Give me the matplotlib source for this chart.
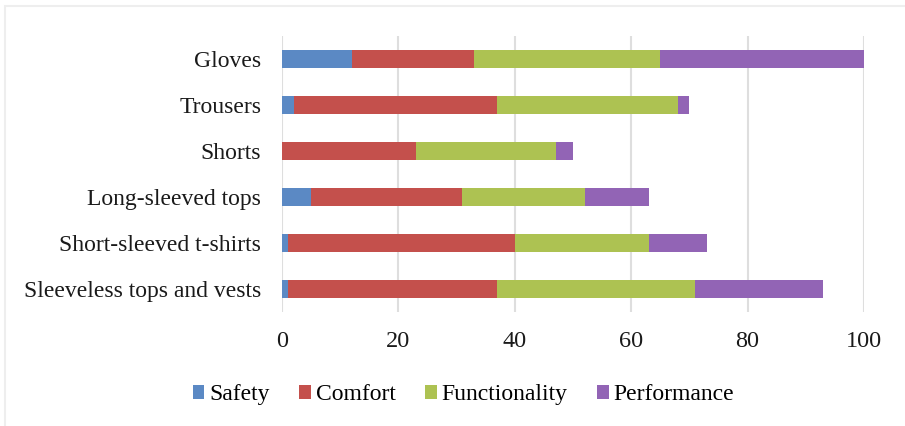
import numpy as np
import matplotlib
matplotlib.use("Agg")
import matplotlib.pyplot as plt
from matplotlib.patches import Rectangle

# dane (od dołu do góry)
categories = ['Sleeveless tops and vests', 'Short-sleeved t-shirts', 'Long-sleeved tops',
              'Shorts', 'Trousers', 'Gloves']
safety = [1, 1, 5, 0, 2, 12]
comfort = [36, 39, 26, 23, 35, 21]
functionality = [34, 23, 21, 24, 31, 32]
performance = [22, 10, 11, 3, 2, 35]

series = [safety, comfort, functionality, performance]
labels = ['Safety', 'Comfort', 'Functionality', 'Performance']
colors = ['#5b89c4', '#c4504c', '#adc252', '#9264b5']

plt.rcParams['font.family'] = ['Liberation Serif', 'DejaVu Serif']

fig = plt.figure(figsize=(9.05, 4.26), dpi=100)
ax = fig.add_axes([0.3116, 0.2676, 0.6431, 0.6479])

y = np.arange(len(categories))
left = np.zeros(len(categories))
for vals, lab, col in zip(series, labels, colors):
    ax.barh(y, vals, left=left, height=0.41, color=col, label=lab, zorder=3)
    left += np.array(vals)

ax.set_xlim(0, 100)
ax.set_ylim(-0.5, len(categories) - 0.5)
ax.set_xticks([0, 20, 40, 60, 80, 100])
ax.set_yticks(y)
ax.set_yticklabels(categories)
ax.tick_params(axis='both', length=0, pad=15, labelsize=17, colors='#1a1a1a')
ax.tick_params(axis='x', labelsize=17.5, pad=14)
ax.grid(axis='x', color='#dedede', linewidth=1.5, zorder=0)
for s in ax.spines.values():
    s.set_visible(False)

fig.legend(loc='center', bbox_to_anchor=(0.512, 0.073), ncol=4, frameon=False,
           fontsize=17, handlelength=0.5, handleheight=0.5, handletextpad=0.2,
           columnspacing=1.25)

# cienka ramka wykresu
fig.add_artist(Rectangle((5 / 905, -0.1), 1.2, 1.1 - 6 / 426, transform=fig.transFigure,
                         fill=False, edgecolor='#eeeeee', linewidth=1.5))

fig.savefig('out.png', dpi=100)
